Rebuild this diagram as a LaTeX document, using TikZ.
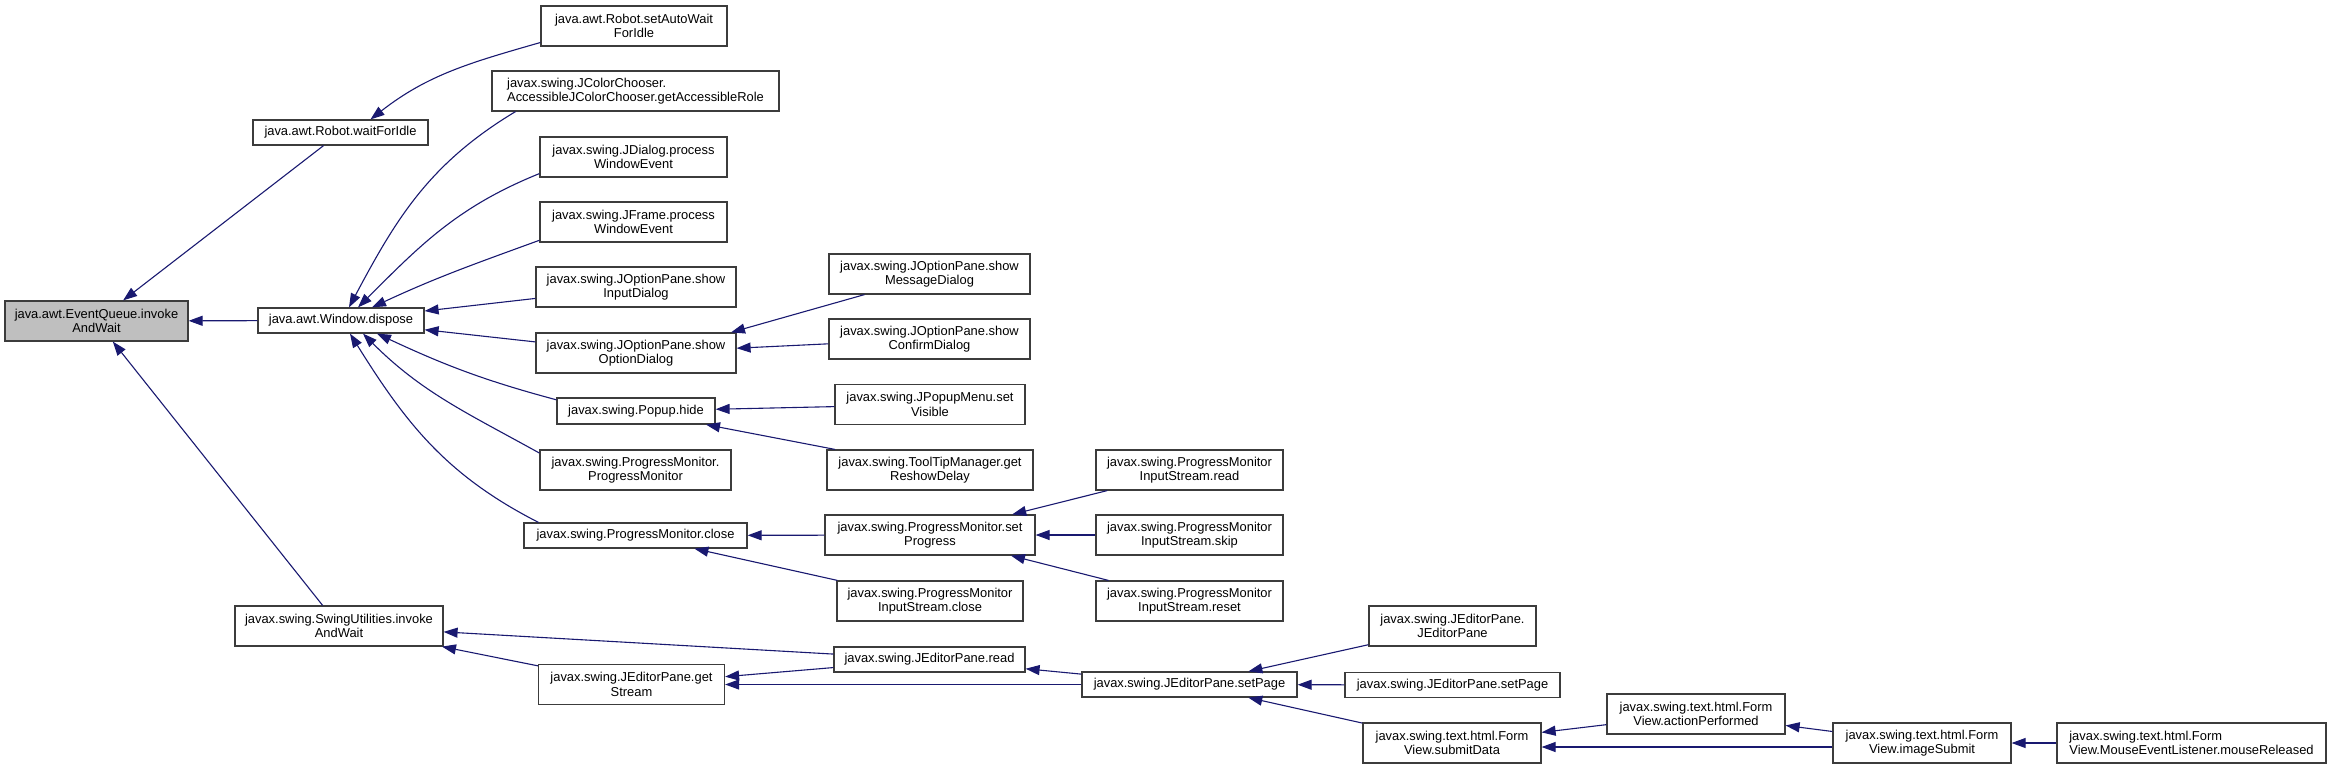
\documentclass[tikz,border=0pt]{standalone}
\usepackage{fontspec}
\setmainfont{Liberation Sans}
\usepackage{tikz}
\usetikzlibrary{arrows.meta}
\definecolor{edgeblue}{RGB}{25,25,112}
\definecolor{boxline}{RGB}{60,60,60}
\definecolor{rootgray}{RGB}{191,191,191}

\begin{document}
\begin{tikzpicture}[x=1pt, y=-1pt,
    box/.style={rectangle, draw=boxline, line width=1.2pt, fill=white, inner sep=0pt,
                minimum height=25pt, align=center, font=\fontsize{12.9}{14.5}\selectfont},
    tall/.style={minimum height=40pt},
    root/.style={box, tall, fill=rootgray},
    arr/.style={-{Triangle[length=14pt,width=10pt]}, line width=1.1pt, edgeblue}]
    \useasboundingbox (0,0) rectangle (2332,769);
    \node[root, minimum width=183pt] (eq) at (96.5,321) {java.awt.EventQueue.invoke\\AndWait};
    \node[box, minimum width=175pt] (wfi) at (340.5,132.5) {java.awt.Robot.waitForIdle};
    \node[box, minimum width=166pt] (disp) at (341,320.5) {java.awt.Window.dispose};
    \node[box, tall, minimum width=208pt] (su) at (339,626) {javax.swing.SwingUtilities.invoke\\AndWait};
    \node[box, tall, minimum width=186pt] (sawi) at (634,26) {java.awt.Robot.setAutoWait\\ForIdle};
    \node[box, tall, minimum width=287pt, align=left] (jcc) at (635.5,91) {javax.swing.JColorChooser.\\AccessibleJColorChooser.getAccessibleRole};
    \node[box, tall, minimum width=187pt] (jdlg) at (633.5,157) {javax.swing.JDialog.process\\WindowEvent};
    \node[box, tall, minimum width=187pt] (jfrm) at (633.5,222) {javax.swing.JFrame.process\\WindowEvent};
    \node[box, tall, minimum width=200pt] (sid) at (636,287) {javax.swing.JOptionPane.show\\InputDialog};
    \node[box, tall, minimum width=200pt] (sod) at (636,353) {javax.swing.JOptionPane.show\\OptionDialog};
    \node[box, minimum width=158pt, minimum height=26pt] (phide) at (636,411) {javax.swing.Popup.hide};
    \node[box, tall, minimum width=191pt] (pmpm) at (635.5,470) {javax.swing.ProgressMonitor.\\ProgressMonitor};
    \node[box, minimum width=223pt] (pmcl) at (635.5,535.5) {javax.swing.ProgressMonitor.close};
    \node[box, tall, minimum width=186pt] (gst) at (631.5,684.5) {javax.swing.JEditorPane.get\\Stream};
    \node[box, tall, minimum width=201pt] (smd) at (929.5,274) {javax.swing.JOptionPane.show\\MessageDialog};
    \node[box, tall, minimum width=201pt] (scd) at (929.5,339) {javax.swing.JOptionPane.show\\ConfirmDialog};
    \node[box, tall, minimum width=190pt] (jpm) at (930,404.5) {javax.swing.JPopupMenu.set\\Visible};
    \node[box, tall, minimum width=206pt] (ttm) at (930,470) {javax.swing.ToolTipManager.get\\ReshowDelay};
    \node[box, tall, minimum width=210pt] (spr) at (930,535) {javax.swing.ProgressMonitor.set\\Progress};
    \node[box, tall, minimum width=186pt] (pmisc) at (930,601) {javax.swing.ProgressMonitor\\InputStream.close};
    \node[box, minimum width=191pt] (jepr) at (929.5,659.5) {javax.swing.JEditorPane.read};
    \node[box, tall, minimum width=187pt] (pmisr) at (1189.5,470) {javax.swing.ProgressMonitor\\InputStream.read};
    \node[box, tall, minimum width=187pt] (pmiss) at (1189.5,535) {javax.swing.ProgressMonitor\\InputStream.skip};
    \node[box, tall, minimum width=187pt] (pmisre) at (1189.5,601) {javax.swing.ProgressMonitor\\InputStream.reset};
    \node[box, minimum width=215pt] (sp) at (1189.5,684.5) {javax.swing.JEditorPane.setPage};
    \node[box, tall, minimum width=167pt] (jep) at (1452.5,626) {javax.swing.JEditorPane.\\JEditorPane};
    \node[box, minimum width=215pt] (sp2) at (1452.5,685) {javax.swing.JEditorPane.setPage};
    \node[box, tall, minimum width=178pt] (sbd) at (1452,743) {javax.swing.text.html.Form\\View.submitData};
    \node[box, tall, minimum width=178pt] (act) at (1696,714) {javax.swing.text.html.Form\\View.actionPerformed};
    \node[box, tall, minimum width=178pt] (ims) at (1922,743) {javax.swing.text.html.Form\\View.imageSubmit};
    \node[box, tall, minimum width=269pt, align=left] (mrel) at (2191.5,743) {javax.swing.text.html.Form\\View.MouseEventListener.mouseReleased};
    \draw[arr] (wfi) -- (eq); \draw[arr] (disp) -- (eq); \draw[arr] (su) -- (eq);
    \draw[arr] (sawi.190) to[out=196, in=38] ([xshift=30pt]wfi.north);
    \draw[arr] ([xshift=-120pt]jcc.south) to[out=211, in=62] ([xshift=8pt]disp.north);
    \draw[arr] (jdlg.190) to[out=202, in=45] ([xshift=17pt]disp.north);
    \draw[arr] (jfrm.191) to[out=200, in=25] ([xshift=31pt]disp.north);
    \draw[arr] (sid) -- (disp); \draw[arr] (sod) -- (disp);
    \draw[arr] (phide.172) to[out=165, in=-25] ([xshift=36pt]disp.south);
    \draw[arr] (pmpm.170) to[out=151, in=-45] ([xshift=22pt]disp.south);
    \draw[arr] ([xshift=-97pt]pmcl.north) to[out=153, in=-58] ([xshift=9pt]disp.south);
    \draw[arr] ([xshift=-65pt]smd.south) -- ([xshift=95pt]sod.north); \draw[arr] (scd) -- (sod);
    \draw[arr] (jpm) -- (phide); \draw[arr] ([xshift=-95pt]ttm.north) -- ([xshift=70pt]phide.south);
    \draw[arr] (spr) -- (pmcl); \draw[arr] (pmisc) -- (pmcl);
    \draw[arr] (pmisr) -- (spr); \draw[arr] (pmiss) -- (spr); \draw[arr] (pmisre) -- (spr);
    \draw[arr] (jepr) -- (su); \draw[arr] (gst) -- (su); \draw[arr] (jepr) -- (gst);
    \draw[arr] (sp) -- (gst); \draw[arr] (sp) -- (jepr);
    \draw[arr] (jep) -- (sp); \draw[arr] (sp2) -- (sp); \draw[arr] (sbd) -- (sp);
    \draw[arr] (act) -- (sbd); \draw[arr] ([yshift=-4pt]ims.west) -- ([yshift=-4pt]sbd.east);
    \draw[arr] (ims) -- (act); \draw[arr] (mrel) -- (ims);
\end{tikzpicture}
\end{document}
